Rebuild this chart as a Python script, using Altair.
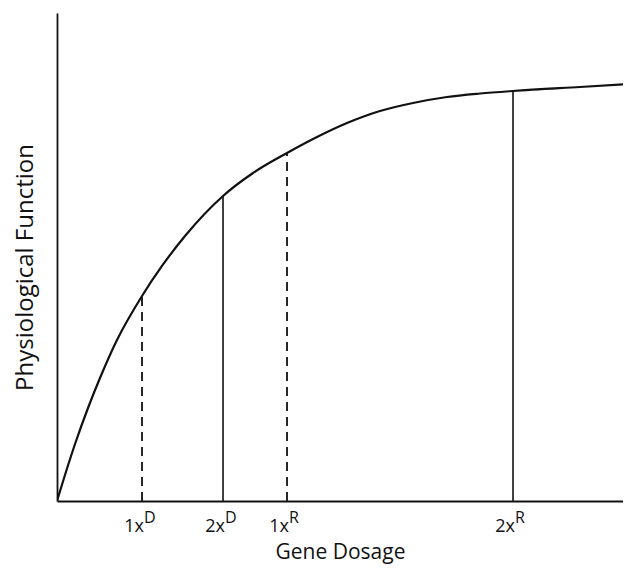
import altair as alt
import pandas as pd

# Curve (gene dosage vs physiological function)
curve_x = [0, 1.39, 3.14, 5.40, 7.49, 10.45, 14.81, 18.29, 22.30, 28.92, 34.15,
           40.07, 44.60, 50.52, 56.27, 62.02, 67.94, 73.69, 79.44, 91.11, 100]
curve_y = [0, 5.33, 11.68, 19.06, 25.20, 32.99, 42.01, 48.16, 54.30, 62.50, 67.21,
           71.31, 74.18, 77.46, 79.92, 81.56, 82.79, 83.50, 84.02, 84.84, 85.45]

# Marker lines
mark_x = [14.81, 28.92, 40.07, 79.44]
mark_top = [42.0, 62.5, 71.3, 84.0]
mark_kind = ["dashed", "solid", "dashed", "solid"]
label_base = ["1x", "2x", "1x", "2x"]
label_sup = ["D", "D", "R", "R"]

FONT = "Open Sans"
INK = "#111111"

curve_df = pd.DataFrame({"x": curve_x, "y": curve_y})
marks_df = pd.DataFrame({"x": mark_x, "top": mark_top, "kind": mark_kind,
                         "base": label_base, "sup": label_sup, "zero": [0] * 4})

xscale = alt.Scale(domain=[0, 98.6], nice=False, zero=False)
yscale = alt.Scale(domain=[0, 100], nice=False)

curve = alt.Chart(curve_df).mark_line(
    color=INK, strokeWidth=2.2, interpolate="monotone", clip=True
).encode(
    x=alt.X("x:Q", scale=xscale,
            axis=alt.Axis(title="Gene Dosage", labels=False, ticks=False, grid=False,
                          domainColor=INK, domainWidth=1.8, titleFont=FONT,
                          titleFontSize=21, titleFontWeight="normal", titleColor=INK,
                          titlePadding=40)),
    y=alt.Y("y:Q", scale=yscale,
            axis=alt.Axis(title="Physiological Function", labels=False, ticks=False,
                          grid=False, domainColor=INK, domainWidth=1.8, titleFont=FONT,
                          titleFontSize=24, titleFontWeight="normal", titleColor=INK,
                          titleAngle=270, titleBaseline="alphabetic", titleAlign="center",
                          titleX=-25, titleY=254)),
)

solid = alt.Chart(marks_df).transform_filter(alt.datum.kind == "solid").mark_rule(
    color=INK, strokeWidth=1.6
).encode(x="x:Q", y="zero:Q", y2="top:Q")

dashed = alt.Chart(marks_df).transform_filter(alt.datum.kind == "dashed").mark_rule(
    color=INK, strokeWidth=1.8, strokeDash=[9, 6]
).encode(x="x:Q", y="zero:Q", y2="top:Q")

base_text = alt.Chart(marks_df).mark_text(
    font=FONT, fontSize=18, color=INK, align="right", baseline="alphabetic", dx=2, dy=31
).encode(x="x:Q", y="zero:Q", text="base:N")

sup_text = alt.Chart(marks_df).mark_text(
    font=FONT, fontSize=16, color=INK, align="left", baseline="alphabetic", dx=2, dy=22
).encode(x="x:Q", y="zero:Q", text="sup:N")

chart = alt.layer(curve, solid, dashed, base_text, sup_text).properties(
    width=566, height=488,
    background="white",
    autosize=alt.AutoSizeParams(type="none"),
    padding={"left": 49, "top": 5, "right": 0, "bottom": 63},
).configure_view(stroke=None, strokeWidth=0).configure_axis(grid=False)

chart.save("out.html", embed_options={"renderer": "svg", "actions": False})
